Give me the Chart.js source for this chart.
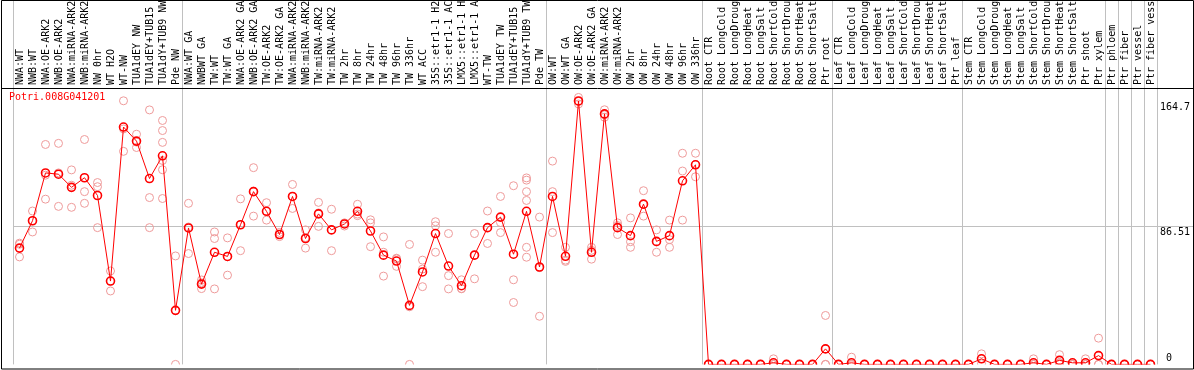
<!DOCTYPE html>
<html>
<head>
<meta charset="utf-8">
<script src="https://cdn.jsdelivr.net/npm/chart.js@4"></script>
<style>
html, body { margin: 0; padding: 0; background: #fff; }
#contenedor { position: relative; width: 1194px; height: 370px; }
</style>
</head>
<body>
<div id="contenedor"><canvas id="grafico" width="1194" height="370"></canvas></div>
<script>
// etiquetas de las muestras (recortadas a 14 caracteres como en la imagen)
const categorias = [
  "NWA:WT", "NWB:WT", "NWA:OE-ARK2", "NWB:OE-ARK2", "NWA:miRNA-ARK2", "NWB:miRNA-ARK2",
  "NW 0hr", "WT H2O", "WT-NW", "TUA1dEY NW", "TUA1dEY+TUB15", "TUA1dY+TUB9 NW", "Pde NW",
  "NWA:WT GA", "NWBWT GA", "TW:WT", "TW:WT GA", "NWA:OE-ARK2 GA", "NWB:OE-ARK2 GA",
  "TW:OE-ARK2", "TW:OE-ARK2 GA", "NWA:miRNA-ARK2", "NWB:miRNA-ARK2", "TW:miRNA-ARK2",
  "TW:miRNA-ARK2", "TW 2hr", "TW 8hr", "TW 24hr", "TW 48hr", "TW 96hr", "TW 336hr", "WT ACC",
  "35S::etr1-1 H2", "35S::etr1-1 AC", "LMX5::etr1-1 H", "LMX5::etr1-1 A", "WT-TW",
  "TUA1dEY TW", "TUA1dEY+TUB15", "TUA1dY+TUB9 TW", "Pde TW",
  "OW:WT", "OW:WT GA", "OW:OE-ARK2", "OW:OE-ARK2 GA", "OW:miRNA-ARK2", "OW:miRNA-ARK2",
  "OW 2hr", "OW 8hr", "OW 24hr", "OW 48hr", "OW 96hr", "OW 336hr",
  "Root CTR", "Root LongCold", "Root LongDroug", "Root LongHeat", "Root LongSalt",
  "Root ShortCold", "Root ShortDrou", "Root ShortHeat", "Root ShortSalt", "Ptr root",
  "Leaf CTR", "Leaf LongCold", "Leaf LongDroug", "Leaf LongHeat", "Leaf LongSalt",
  "Leaf ShortCold", "Leaf ShortDrou", "Leaf ShortHeat", "Leaf ShortSalt", "Ptr leaf",
  "Stem CTR", "Stem LongCold", "Stem LongDroug", "Stem LongHeat", "Stem LongSalt",
  "Stem ShortCold", "Stem ShortDrou", "Stem ShortHeat", "Stem ShortSalt", "Ptr shoot",
  "Ptr xylem", "Ptr phloem", "Ptr fiber", "Ptr vessel", "Ptr fiber vess"
];

// cantidad de muestras en cada grupo (separados por lineas verticales)
const tamGrupos = [13, 28, 12, 10, 10, 11, 1, 1, 1, 1];

// valor medio de cada muestra
const medias = [
  72.7, 89.8, 119.7, 118.9, 110.7, 116.7, 105.6, 52.1, 148.4, 139.6, 116.2, 130.4, 33.8,
  85.3, 50.2, 70.1, 67.5, 87.3, 108.0, 95.7, 81.2, 105.0, 78.7, 94.1, 84.1, 87.8, 95.7,
  83.4, 68.3, 64.6, 36.9, 57.8, 81.8, 61.5, 49.2, 68.3, 85.5, 92.1, 68.9, 95.7, 60.9,
  105.0, 67.6, 164.7, 70.1, 156.6, 85.5, 80.5, 100.2, 76.9, 80.5, 114.8, 124.8,
  0, 0, 0, 0, 0, 1.0, 0, 0, 0, 9.7,
  0, 1.0, 0, 0, 0, 0, 0, 0, 0, 0,
  0, 3.5, 0, 0, 0, 1.0, 0, 2.5, 1.0, 1.0, 5.5,
  0, 0, 0, 0
];

// replicas de cada muestra
const replicas = [
  [75.8, 75.1, 67.2], [95.9, 89.8, 82.8], [137.5, 118.3, 103.3], [138.2, 119.7, 98.8],
  [121.6, 112.0, 98.2], [140.6, 108.0, 100.7], [113.7, 111.1, 85.5], [58.4, 52.0, 45.9],
  [164.8, 147.2, 133.2], [143.9, 139.0, 135.6], [159.1, 104.3, 85.5],
  [152.5, 146.2, 138.8, 127.5, 121.7, 103.7], [67.8, 33.6, 0],
  [100.7, 85.9, 69.3], [52.8, 51.0, 47.4], [82.8, 78.7, 47.2], [79.1, 67.3, 55.8],
  [103.5, 87.3, 71.1], [123.0, 108.3, 92.7], [101.1, 95.8, 90.2], [82.5, 81.2, 79.9],
  [112.5, 105.0, 97.5], [84.1, 79.3, 72.7], [101.3, 94.7, 86.3], [97.0, 84.2, 71.1],
  [88.5, 88.0, 86.5], [100.1, 94.0, 93.0], [90.4, 88.5, 73.6], [79.7, 70.1, 55.2],
  [66.4, 66.0, 61.3], [75.0, 36.0, 0], [65.2, 59.6, 48.6], [89.2, 86.7, 70.1],
  [81.8, 55.5, 47.2], [52.9, 47.4, 47.3], [81.8, 68.3, 53.5], [95.9, 85.5, 75.6],
  [105.0, 88.7, 82.4], [111.7, 52.9, 38.7], [116.6, 115.2, 108.0, 102.5, 73.2, 67.0],
  [92.1, 60.5, 30.1],
  [127.1, 108.0, 82.4], [73.2, 65.2, 64.4], [166.9, 164.4, 162.8], [73.2, 71.3, 65.8],
  [159.2, 156.0, 154.5], [88.5, 86.8, 81.2], [91.6, 76.7, 73.2], [108.6, 100.0, 92.7],
  [84.1, 76.5, 70.1], [90.2, 78.0, 73.2], [132.0, 120.9, 90.2], [132.0, 125.0, 117.3],
  [0, 0, 0], [0, 0, 0], [0, 0, 0], [0, 0, 0], [0, 0, 0], [3.5, 0, 0], [0, 0, 0],
  [0, 0, 0], [0, 0, 0], [30.6, 0, 0],
  [0, 0, 0], [4.5, 0, 0], [0, 0, 0], [0, 0, 0], [0, 0, 0], [0, 0, 0], [0, 0, 0],
  [0, 0, 0], [0, 0, 0], [0, 0, 0],
  [0, 0, 0], [6.6, 3.5, 0.4], [0, 0, 0], [0, 0, 0], [0, 0, 0], [3.5, 0, 0], [0, 0, 0],
  [6.1, 1.0, 0.4], [0, 0, 0], [3.5, 0, 0], [16.4, 0, 0],
  [0, 0, 0], [0, 0, 0], [0, 0, 0], [0, 0, 0]
];

const nombreGen = "Potri.008G041201";
const ticksY = [0, 86.51, 164.7];
const maxY = 172.8;

const fuente = { family: "'DejaVu Sans Mono', monospace", size: 10 };
const colorGrid = '#c0c0c0';

// indices de las lineas divisorias entre grupos
let bordes = [0];
tamGrupos.forEach(n => bordes.push(bordes[bordes.length - 1] + n));

// un dataset por cada replica (k), alineado con las categorias
let maxRep = Math.max(...replicas.map(r => r.length));
let datasetsRep = [];
for (let k = 0; k < maxRep; k++) {
  datasetsRep.push({
    label: 'replica ' + (k + 1),
    data: replicas.map(r => (k < r.length ? r[k] : null)),
    showLine: false,
    pointRadius: 4,
    pointBorderWidth: 1,
    pointBorderColor: '#ee9a9a',
    pointBackgroundColor: 'rgba(0,0,0,0)'
  });
}

// marco negro y nombre del gen
const marco = {
  id: 'marco',
  afterDraw(chart) {
    const c = chart.ctx;
    const a = chart.chartArea;
    c.save();
    c.strokeStyle = '#000';
    c.lineWidth = 1;
    c.beginPath();
    c.rect(1.5, 0.5, chart.width - 2, 368.5);
    c.moveTo(1, a.top + 0.5);
    c.lineTo(chart.width, a.top + 0.5);
    c.stroke();
    c.fillStyle = '#ff0000';
    c.font = "10px 'DejaVu Sans Mono', monospace";
    c.textBaseline = 'middle';
    c.fillText(nombreGen, 9, a.top + 9);
    c.restore();
  }
};

new Chart(document.getElementById('grafico'), {
  type: 'line',
  data: {
    labels: categorias,
    datasets: [
      {
        label: 'media',
        data: medias,
        borderColor: '#ff0000',
        borderWidth: 1,
        pointRadius: 4,
        pointBorderWidth: 1.6,
        pointBorderColor: '#ff0000',
        pointBackgroundColor: 'rgba(0,0,0,0)',
        tension: 0
      }
    ].concat(datasetsRep)
  },
  options: {
    responsive: false,
    animation: false,
    layout: { padding: { left: 13, right: 0, top: 0, bottom: 1 } },
    plugins: { legend: { display: false }, tooltip: { enabled: false } },
    scales: {
      x: {
        type: 'category',
        position: 'top',
        offset: true,
        afterFit: s => { s.height = 88; },
        border: { display: false },
        grid: {
          offset: true,
          tickLength: 88,
          color: ctx => (ctx.index === undefined || bordes.includes(ctx.index)) ? colorGrid : 'rgba(0,0,0,0)'
        },
        ticks: {
          autoSkip: false,
          maxRotation: 90,
          minRotation: 90,
          padding: -85,
          labelOffset: 13,
          color: '#000',
          font: fuente
        }
      },
      y: {
        position: 'right',
        min: 0,
        max: maxY,
        afterFit: s => { s.width = 37; },
        afterBuildTicks: s => { s.ticks = ticksY.map(v => ({ value: v })); },
        border: { display: false },
        grid: {
          tickLength: 37,
          color: ctx => (ctx.tick && ctx.tick.value === 86.51) ? colorGrid : 'rgba(0,0,0,0)'
        },
        ticks: {
          padding: -34,
          color: '#000',
          font: fuente,
          callback: v => v === 0 ? [' 0', ''] : ['', String(v)]
        }
      }
    }
  },
  plugins: [marco]
});
</script>
</body>
</html>
